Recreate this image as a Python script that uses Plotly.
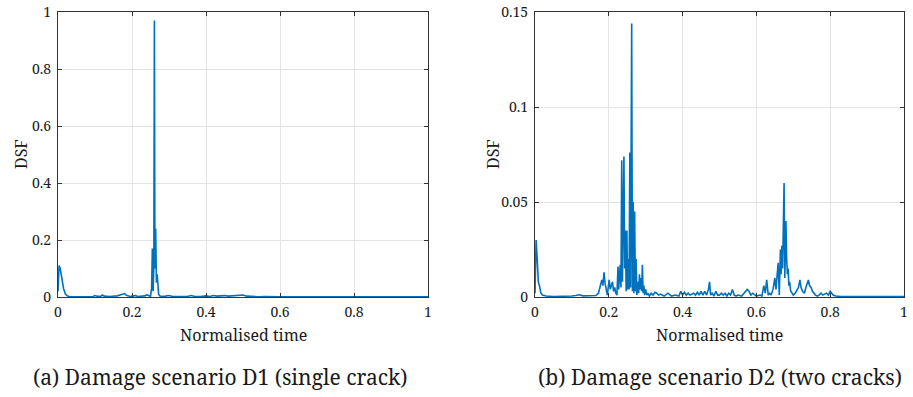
import plotly.graph_objects as go

# ---------------- data ----------------
d1_time = [0, 0.003, 0.006, 0.009, 0.012, 0.015, 0.02, 0.025, 0.03, 0.04,
           0.06, 0.08, 0.095, 0.1, 0.105, 0.115, 0.12, 0.125, 0.14, 0.16,
           0.175, 0.18, 0.185, 0.195, 0.205, 0.21, 0.215, 0.225, 0.23, 0.235,
           0.24, 0.245, 0.25, 0.253, 0.255, 0.257, 0.259, 0.2605, 0.262, 0.264,
           0.266, 0.268, 0.27, 0.272, 0.275, 0.28, 0.29, 0.3, 0.31, 0.32,
           0.335, 0.35, 0.36, 0.37, 0.385, 0.4, 0.41, 0.42, 0.43, 0.44,
           0.45, 0.46, 0.47, 0.48, 0.49, 0.5, 0.51, 0.52, 0.54, 0.56,
           0.58, 0.6, 0.65, 0.7, 0.75, 0.8, 0.85, 0.9, 0.95, 1.0]
d1_dsf = [0.02, 0.11, 0.1, 0.07, 0.06, 0.03, 0.01, 0.004, 0.002, 0.001,
          0.001, 0.001, 0.002, 0.005, 0.003, 0.002, 0.007, 0.003, 0.002, 0.004,
          0.008, 0.012, 0.006, 0.002, 0.004, 0.005, 0.002, 0.003, 0.006, 0.004,
          0.008, 0.004, 0.002, 0.03, 0.17, 0.02, 0.1, 0.97, 0.1, 0.24,
          0.05, 0.08, 0.02, 0.01, 0.004, 0.002, 0.003, 0.005, 0.002, 0.002,
          0.003, 0.002, 0.005, 0.002, 0.002, 0.004, 0.002, 0.005, 0.003, 0.004,
          0.005, 0.003, 0.004, 0.005, 0.004, 0.007, 0.003, 0.002, 0.001, 0.002,
          0.001, 0.001, 0.0005, 0.0005, 0.0005, 0.0005, 0.0005, 0.0005, 0.0005, 0.0005]

d2_time = [0, 0.003, 0.006, 0.009, 0.012, 0.016, 0.02, 0.03, 0.05, 0.08,
           0.1, 0.11, 0.12, 0.13, 0.15, 0.165, 0.172, 0.177, 0.181, 0.184,
           0.187, 0.19, 0.193, 0.196, 0.199, 0.201, 0.204, 0.207, 0.21, 0.213,
           0.216, 0.219, 0.222, 0.225, 0.227, 0.229, 0.231, 0.233, 0.235, 0.237,
           0.239, 0.241, 0.243, 0.245, 0.247, 0.249, 0.251, 0.253, 0.255, 0.257,
           0.259, 0.2605, 0.262, 0.264, 0.266, 0.268, 0.27, 0.272, 0.274, 0.276,
           0.279, 0.281, 0.283, 0.285, 0.287, 0.289, 0.291, 0.293, 0.295, 0.297,
           0.3, 0.303, 0.306, 0.31, 0.315, 0.32, 0.325, 0.33, 0.335, 0.34,
           0.35, 0.36, 0.365, 0.37, 0.38, 0.39, 0.395, 0.4, 0.405, 0.41,
           0.415, 0.42, 0.43, 0.435, 0.44, 0.445, 0.45, 0.455, 0.46, 0.465,
           0.47, 0.473, 0.476, 0.48, 0.485, 0.49, 0.495, 0.5, 0.505, 0.51,
           0.515, 0.52, 0.525, 0.53, 0.535, 0.54, 0.545, 0.55, 0.56, 0.57,
           0.575, 0.58, 0.585, 0.59, 0.6, 0.61, 0.615, 0.62, 0.624, 0.628,
           0.632, 0.636, 0.64, 0.645, 0.65, 0.653, 0.656, 0.659, 0.662, 0.665,
           0.667, 0.669, 0.671, 0.673, 0.675, 0.677, 0.68, 0.682, 0.684, 0.686,
           0.688, 0.69, 0.693, 0.697, 0.7, 0.705, 0.71, 0.714, 0.718, 0.721,
           0.725, 0.73, 0.734, 0.738, 0.741, 0.744, 0.748, 0.752, 0.756, 0.76,
           0.765, 0.77, 0.775, 0.78, 0.785, 0.79, 0.795, 0.8, 0.804, 0.808,
           0.815, 0.83, 0.86, 0.9, 0.95, 1.0]
d2_dsf = [0.002, 0.03, 0.02, 0.008, 0.006, 0.002, 0.001, 0.0005, 0.0003, 0.0003,
          0.0005, 0.0008, 0.0012, 0.0006, 0.0005, 0.0008, 0.002, 0.006, 0.009, 0.006,
          0.013, 0.007, 0.003, 0.001, 0.006, 0.009, 0.004, 0.007, 0.008, 0.003,
          0.005, 0.002, 0.001, 0.016, 0.004, 0.012, 0.017, 0.005, 0.072, 0.008,
          0.05, 0.074, 0.015, 0.035, 0.003, 0.035, 0.004, 0.02, 0.004, 0.076,
          0.005, 0.078, 0.144, 0.003, 0.05, 0.002, 0.045, 0.003, 0.02, 0.001,
          0.008, 0.002, 0.012, 0.004, 0.01, 0.003, 0.017, 0.002, 0.006, 0.001,
          0.004, 0.001, 0.002, 0.0005, 0.002, 0.001, 0.0025, 0.002, 0.001, 0.0015,
          0.0005, 0.002, 0.001, 0.0005, 0.001, 0.0005, 0.003, 0.001, 0.0025, 0.001,
          0.002, 0.001, 0.002, 0.001, 0.0025, 0.001, 0.003, 0.001, 0.003, 0.001,
          0.004, 0.008, 0.001, 0.002, 0.0005, 0.003, 0.001, 0.001, 0.002, 0.001,
          0.002, 0.0005, 0.002, 0.001, 0.004, 0.001, 0.0005, 0.001, 0.0005, 0.003,
          0.004, 0.003, 0.001, 0.002, 0.0005, 0.001, 0.0005, 0.006, 0.002, 0.009,
          0.001, 0.002, 0.001, 0.004, 0.01, 0.004, 0.011, 0.018, 0.001, 0.025,
          0.012, 0.027, 0.015, 0.04, 0.06, 0.01, 0.04, 0.02, 0.012, 0.015,
          0.006, 0.008, 0.003, 0.002, 0.001, 0.002, 0.004, 0.005, 0.009, 0.005,
          0.003, 0.002, 0.005, 0.007, 0.009, 0.006, 0.005, 0.003, 0.002, 0.001,
          0.0005, 0.001, 0.002, 0.001, 0.0015, 0.002, 0.001, 0.003, 0.002, 0.001,
          0.0005, 0.0003, 0.0003, 0.0002, 0.0002, 0.0002]

x_ticks = [0, 0.2, 0.4, 0.6, 0.8, 1]
x_ticklabels = ["0", "0.2", "0.4", "0.6", "0.8", "1"]
y1_ticks = [0, 0.2, 0.4, 0.6, 0.8, 1]
y1_ticklabels = ["0", "0.2", "0.4", "0.6", "0.8", "1"]
y2_ticks = [0, 0.05, 0.1, 0.15]
y2_ticklabels = ["0", "0.05", "0.1", "0.15"]

x_title = "Normalised time"
y_title = "DSF"
caption_a = "(a) Damage scenario D1 (single crack)"
caption_b = "(b) Damage scenario D2 (two cracks)"

assert len(d1_time) == len(d1_dsf)
assert len(d2_time) == len(d2_dsf)

# ---------------- figure ----------------
W, H = 913, 397
FONT = "Noto Serif"
LINE = "#0072BD"
AX = "#333333"
GRID = "#e3e3e3"
TXT = "#1a1a1a"

def px_x(p):
    return p / W

def px_y(p):
    return 1 - p / H

fig = go.Figure()
fig.add_trace(go.Scatter(x=d1_time, y=d1_dsf, mode="lines",
                         line=dict(color=LINE, width=1.6), xaxis="x", yaxis="y",
                         showlegend=False, hoverinfo="skip"))
fig.add_trace(go.Scatter(x=d2_time, y=d2_dsf, mode="lines",
                         line=dict(color=LINE, width=1.6), xaxis="x2", yaxis="y2",
                         showlegend=False, hoverinfo="skip"))

common_axis = dict(showline=True, linecolor=AX, linewidth=1, mirror="allticks",
                   ticks="inside", ticklen=4, tickcolor=AX, tickwidth=1,
                   showgrid=True, gridcolor=GRID, gridwidth=1, zeroline=False,
                   tickfont=dict(family=FONT, size=14, color=TXT),
                   automargin=False, fixedrange=True, layer="above traces")

y_dom = [px_y(297), px_y(12)]
fig.update_layout(
    template="none",
    width=W, height=H, margin=dict(l=0, r=0, t=0, b=0, pad=0),
    paper_bgcolor="white", plot_bgcolor="white",
    font=dict(family=FONT, color=TXT),
    xaxis=dict(domain=[px_x(58), px_x(428)], range=[0, 1], anchor="y",
               tickvals=x_ticks, ticktext=x_ticklabels, ticklabelstandoff=2, **common_axis),
    yaxis=dict(domain=y_dom, range=[0, 1], anchor="x",
               tickvals=y1_ticks, ticktext=y1_ticklabels, ticklabelstandoff=3, **common_axis),
    xaxis2=dict(domain=[px_x(535), px_x(904)], range=[0, 1], anchor="y2",
                tickvals=x_ticks, ticktext=x_ticklabels, ticklabelstandoff=2, **common_axis),
    yaxis2=dict(domain=y_dom, range=[0, 0.15], anchor="x2",
                tickvals=y2_ticks, ticktext=y2_ticklabels, ticklabelstandoff=3, **common_axis),
)

def ann(text, x, y, size, angle=0, xanchor="center"):
    fig.add_annotation(text=text, x=px_x(x), y=px_y(y), xref="paper", yref="paper",
                       showarrow=False, xanchor=xanchor, yanchor="middle",
                       textangle=angle, font=dict(family=FONT, size=size, color=TXT))

ann(x_title, 243, 335, 16)
ann(x_title, 719, 335, 16)
ann(y_title, 21, 154, 16, angle=-90)
ann(y_title, 493, 154, 16, angle=-90)
ann(caption_a, 220, 377, 21)
ann(caption_b, 720, 377, 21)

fig.write_html("out.html")
